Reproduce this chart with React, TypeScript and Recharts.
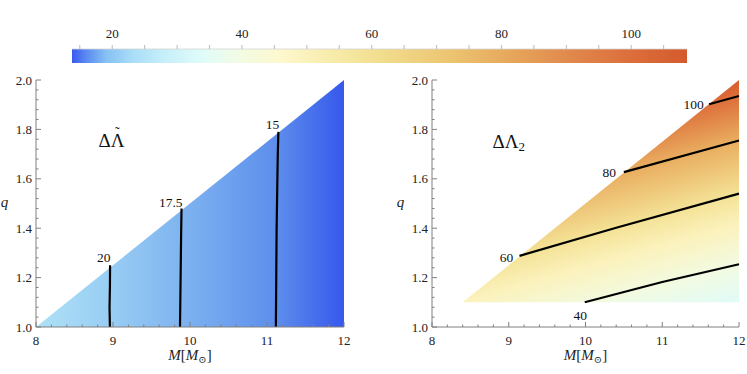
import React from 'react';
import { ComposedChart, Area, Line, XAxis, YAxis, ReferenceDot } from 'recharts';

const FONT = '"Liberation Serif", "DejaVu Serif", serif';
const FRAME = '#808080';
const INK = '#222';

// colour bar
const CBAR_MIN = 13.8;
const CBAR_MAX = 108.6;
const CBAR_ENDS = [{ v: CBAR_MIN, h: 1 }, { v: CBAR_MAX, h: 1 }];
const CBAR_TICKS = [15, 20, 25, 30, 35, 40, 45, 50, 55, 60, 65, 70, 75, 80, 85, 90, 95, 100, 105];
const CBAR_LABELS = [20, 40, 60, 80, 100];

// frame ticks
const X_MAJOR = [8, 9, 10, 11, 12];
const Y_MAJOR = [1.0, 1.2, 1.4, 1.6, 1.8, 2.0];
const steps = (a: number, b: number, d: number) => {
  const out: number[] = [];
  for (let i = 0; a + i * d <= b + 1e-9; i++) out.push(Math.round((a + i * d) * 1000) / 1000);
  return out;
};
const X_TICKS = steps(8, 12, 0.2);
const Y_TICKS = steps(1, 2, 0.04);

// left panel: Delta Lambda-tilde
const LEFT_REGION = [{ M: 8, q: 1.0 }, { M: 12, q: 2.0 }];
const LEFT_C20 = [{ M: 8.96, q: 1.0 }, { M: 8.955, q: 1.08 }, { M: 8.96, q: 1.16 }, { M: 8.962, q: 1.25 }];
const LEFT_C175 = [{ M: 9.87, q: 1.0 }, { M: 9.875, q: 1.12 }, { M: 9.88, q: 1.25 }, { M: 9.885, q: 1.38 }, { M: 9.89, q: 1.48 }];
const LEFT_C15 = [{ M: 11.115, q: 1.0 }, { M: 11.12, q: 1.2 }, { M: 11.125, q: 1.4 }, { M: 11.135, q: 1.6 }, { M: 11.14, q: 1.7 }, { M: 11.148, q: 1.79 }];
const LEFT_LABELS = [
  { M: 8.88, q: 1.283, text: '20' },
  { M: 9.75, q: 1.505, text: '17.5' },
  { M: 11.07, q: 1.821, text: '15' },
];

// right panel: Delta Lambda_2
const RIGHT_REGION = [{ M: 8.4, q: 1.1 }, { M: 12, q: 2.0 }];
const RIGHT_C40 = [{ M: 9.99, q: 1.1 }, { M: 11.0, q: 1.182 }, { M: 12, q: 1.254 }];
const RIGHT_C60 = [{ M: 9.14, q: 1.288 }, { M: 10.4, q: 1.402 }, { M: 12, q: 1.54 }];
const RIGHT_C80 = [{ M: 10.5, q: 1.627 }, { M: 12, q: 1.755 }];
const RIGHT_C100 = [{ M: 11.61, q: 1.902 }, { M: 12, q: 1.935 }];
const RIGHT_LABELS = [
  { M: 11.41, q: 1.902, text: '100' },
  { M: 10.31, q: 1.624, text: '80' },
  { M: 8.97, q: 1.283, text: '60' },
  { M: 9.93, q: 1.046, text: '40' },
];

const CBAR_STOPS = [
  { o: 0, c: '#3a5af0' },
  { o: 0.023, c: '#5a8af0' },
  { o: 0.055, c: '#86c0f4' },
  { o: 0.097, c: '#a8dcf7' },
  { o: 0.15, c: '#c7eff9' },
  { o: 0.213, c: '#e0fcf9' },
  { o: 0.276, c: '#f3fbe2' },
  { o: 0.34, c: '#fdf8cd' },
  { o: 0.435, c: '#f7eaa6' },
  { o: 0.508, c: '#f1dc8c' },
  { o: 0.614, c: '#ecc571' },
  { o: 0.719, c: '#e6a55a' },
  { o: 0.825, c: '#e0844a' },
  { o: 0.909, c: '#dc6e3b' },
  { o: 1, c: '#d45a2c' },
];

const LEFT_GRAD = {
  x1: 0, y1: 0, x2: 1, y2: 0,
  stops: [
    { o: 0, c: '#aee1f6' },
    { o: 0.245, c: '#98cdf4' },
    { o: 0.47, c: '#7fb4f0' },
    { o: 0.78, c: '#5d8eec' },
    { o: 1, c: '#3658ec' },
  ],
};

const RIGHT_GRAD = {
  x1: 1, y1: 1, x2: 0.69, y2: 0.108,
  stops: [
    { o: 0, c: '#e0fbf8' },
    { o: 0.167, c: '#f2fbe2' },
    { o: 0.348, c: '#fbf2bd' },
    { o: 0.489, c: '#f4e296' },
    { o: 0.728, c: '#e9ae60' },
    { o: 0.928, c: '#dd6f3b' },
    { o: 1, c: '#d75c2e' },
  ],
};

const isIn = (list: number[], v: number) => list.some((m) => Math.abs(m - v) < 1e-6);

function FrameTick(props: any) {
  const { x, y, payload, side, majors } = props;
  const v = payload.value;
  const major = isIn(majors, v);
  const len = major ? 5 : 2.5;
  let line = null;
  let label = null;
  if (side === 'bottom') {
    line = <line x1={x} y1={y} x2={x} y2={y - len} />;
    if (major) label = <text x={x} y={y + 18} textAnchor="middle">{Math.round(v)}</text>;
  } else if (side === 'top') {
    line = <line x1={x} y1={y} x2={x} y2={y + len} />;
  } else if (side === 'left') {
    line = <line x1={x} y1={y} x2={x + len} y2={y} />;
    if (major) label = <text x={x - 4} y={y + 4.5} textAnchor="end">{v.toFixed(1)}</text>;
  } else {
    line = <line x1={x} y1={y} x2={x - len} y2={y} />;
  }
  return (
    <g>
      <g stroke={FRAME} strokeWidth={1}>{line}</g>
      {label && <g fill={INK} fontSize={13} fontFamily={FONT}>{label}</g>}
    </g>
  );
}

function CbarTick(props: any) {
  const { x, y, payload } = props;
  const v = payload.value;
  return (
    <g>
      <line x1={x} y1={y} x2={x} y2={y - 4} stroke="#bbbbbb" strokeWidth={1} />
      {isIn(CBAR_LABELS, v) && (
        <text x={x} y={y - 11} textAnchor="middle" fill={INK} fontSize={13} fontFamily={FONT}>
          {Math.round(v)}
        </text>
      )}
    </g>
  );
}

function MassLabel(props: any) {
  const vb = props.viewBox || {};
  return (
    <text x={vb.x + vb.width / 2} y={vb.y + 33} textAnchor="middle" fill={INK} fontSize={15} fontFamily={FONT}>
      <tspan fontStyle="italic">M</tspan>
      <tspan>[</tspan>
      <tspan fontStyle="italic">M</tspan>
      <tspan fontSize={10} dy={3}>⊙</tspan>
      <tspan dy={-3}>]</tspan>
    </text>
  );
}

function QLabel(props: any) {
  const vb = props.viewBox || {};
  return (
    <text x={vb.x + 4.5} y={vb.y + vb.height / 2 + 3} textAnchor="middle" fill={INK} fontSize={15} fontStyle="italic" fontFamily={FONT}>
      q
    </text>
  );
}

function ContourText({ cx, cy, text }: any) {
  return (
    <text x={cx} y={cy} textAnchor="middle" dominantBaseline="central" fill="#111" fontSize={13.5} fontFamily={FONT}>
      {text}
    </text>
  );
}

function Panel({ left, width, rightMargin, region, base, gradId, grad, contours, labels, title, titleAt }: any) {
  return (
    <div style={{ position: 'absolute', left, top: 65 }}>
      <ComposedChart width={width} height={309} margin={{ top: 15, right: rightMargin, bottom: 0, left: 0 }}>
        <defs>
          <linearGradient id={gradId} x1={grad.x1} y1={grad.y1} x2={grad.x2} y2={grad.y2}>
            {grad.stops.map((s: any, i: number) => (
              <stop key={i} offset={s.o} stopColor={s.c} />
            ))}
          </linearGradient>
        </defs>
        <XAxis
          dataKey="M"
          type="number"
          domain={[8, 12]}
          ticks={X_TICKS}
          interval={0}
          height={47}
          tickSize={0}
          tickMargin={0}
          tickLine={false}
          axisLine={{ stroke: FRAME }}
          tick={<FrameTick side="bottom" majors={X_MAJOR} />}
          label={<MassLabel />}
        />
        <XAxis
          xAxisId="top"
          orientation="top"
          type="number"
          domain={[8, 12]}
          ticks={X_TICKS}
          interval={0}
          height={0}
          tickSize={0}
          tickMargin={0}
          tickLine={false}
          axisLine={{ stroke: FRAME }}
          tick={<FrameTick side="top" majors={X_MAJOR} />}
        />
        <YAxis
          type="number"
          domain={[1, 2]}
          ticks={Y_TICKS}
          interval={0}
          width={36}
          tickSize={0}
          tickMargin={0}
          tickLine={false}
          axisLine={{ stroke: FRAME }}
          tick={<FrameTick side="left" majors={Y_MAJOR} />}
          label={<QLabel />}
        />
        <YAxis
          yAxisId="right"
          orientation="right"
          type="number"
          domain={[1, 2]}
          ticks={Y_TICKS}
          interval={0}
          width={0}
          tickSize={0}
          tickMargin={0}
          tickLine={false}
          axisLine={{ stroke: FRAME }}
          tick={<FrameTick side="right" majors={Y_MAJOR} />}
        />
        <Area
          data={region}
          dataKey="q"
          type="linear"
          baseValue={base}
          stroke="none"
          fill={`url(#${gradId})`}
          fillOpacity={1}
          dot={false}
          activeDot={false}
          isAnimationActive={false}
        />
        {contours.map((c: any, i: number) => (
          <Line
            key={i}
            data={c}
            dataKey="q"
            type="linear"
            stroke="#000"
            strokeWidth={2.2}
            dot={false}
            activeDot={false}
            isAnimationActive={false}
          />
        ))}
        {labels.map((l: any, i: number) => (
          <ReferenceDot key={i} x={l.M} y={l.q} r={0} shape={(p: any) => <ContourText cx={p.cx} cy={p.cy} text={l.text} />} />
        ))}
        <ReferenceDot x={titleAt.M} y={titleAt.q} r={0} shape={(p: any) => title(p.cx, p.cy)} />
      </ComposedChart>
    </div>
  );
}

// tilde is kept inside the same text element, shifted back over the Lambda
const leftTitle = (x: number, y: number) => (
  <text x={x} y={y + 6.5} textAnchor="middle" fill="#111" fontSize={19} fontFamily={FONT}>
    ΔΛ<tspan fontSize={14} dx={-9.5} dy={-10}>˜</tspan>
  </text>
);

const rightTitle = (x: number, y: number) => (
  <text x={x} y={y} textAnchor="middle" dominantBaseline="central" fill="#111" fontSize={19} fontFamily={FONT}>
    ΔΛ<tspan fontSize={13} dy={4}>2</tspan>
  </text>
);

export default function App() {
  return (
    <div style={{ position: 'absolute', left: 0, top: 0, width: 747, height: 374, overflow: 'hidden', background: '#fff', fontFamily: FONT }}>
      <div style={{ position: 'absolute', left: 0, top: 0 }}>
        <ComposedChart width={747} height={63} margin={{ top: 0, right: 60, bottom: 0, left: 72 }} data={CBAR_ENDS}>
          <defs>
            <linearGradient id="cbarGrad" x1="0" y1="0" x2="1" y2="0">
              {CBAR_STOPS.map((s, i) => (
                <stop key={i} offset={s.o} stopColor={s.c} />
              ))}
            </linearGradient>
          </defs>
          <XAxis
            dataKey="v"
            type="number"
            orientation="top"
            domain={[CBAR_MIN, CBAR_MAX]}
            ticks={CBAR_TICKS}
            interval={0}
            height={49}
            tickSize={0}
            tickMargin={0}
            tickLine={false}
            axisLine={false}
            tick={<CbarTick />}
          />
          <YAxis hide type="number" domain={[0, 1]} />
          <Area
            dataKey="h"
            type="linear"
            baseValue={0}
            stroke="#d4d4d4"
            strokeWidth={0.8}
            fill="url(#cbarGrad)"
            fillOpacity={1}
            dot={false}
            activeDot={false}
            isAnimationActive={false}
          />
        </ComposedChart>
      </div>
      <Panel
        left={0}
        width={370}
        rightMargin={26}
        region={LEFT_REGION}
        base={1}
        gradId="leftGrad"
        grad={LEFT_GRAD}
        contours={[LEFT_C20, LEFT_C175, LEFT_C15]}
        labels={LEFT_LABELS}
        title={leftTitle}
        titleAt={{ M: 8.98, q: 1.754 }}
      />
      <Panel
        left={396}
        width={351}
        rightMargin={8}
        region={RIGHT_REGION}
        base={1.1}
        gradId="rightGrad"
        grad={RIGHT_GRAD}
        contours={[RIGHT_C40, RIGHT_C60, RIGHT_C80, RIGHT_C100]}
        labels={RIGHT_LABELS}
        title={rightTitle}
        titleAt={{ M: 9.0, q: 1.749 }}
      />
    </div>
  );
}
